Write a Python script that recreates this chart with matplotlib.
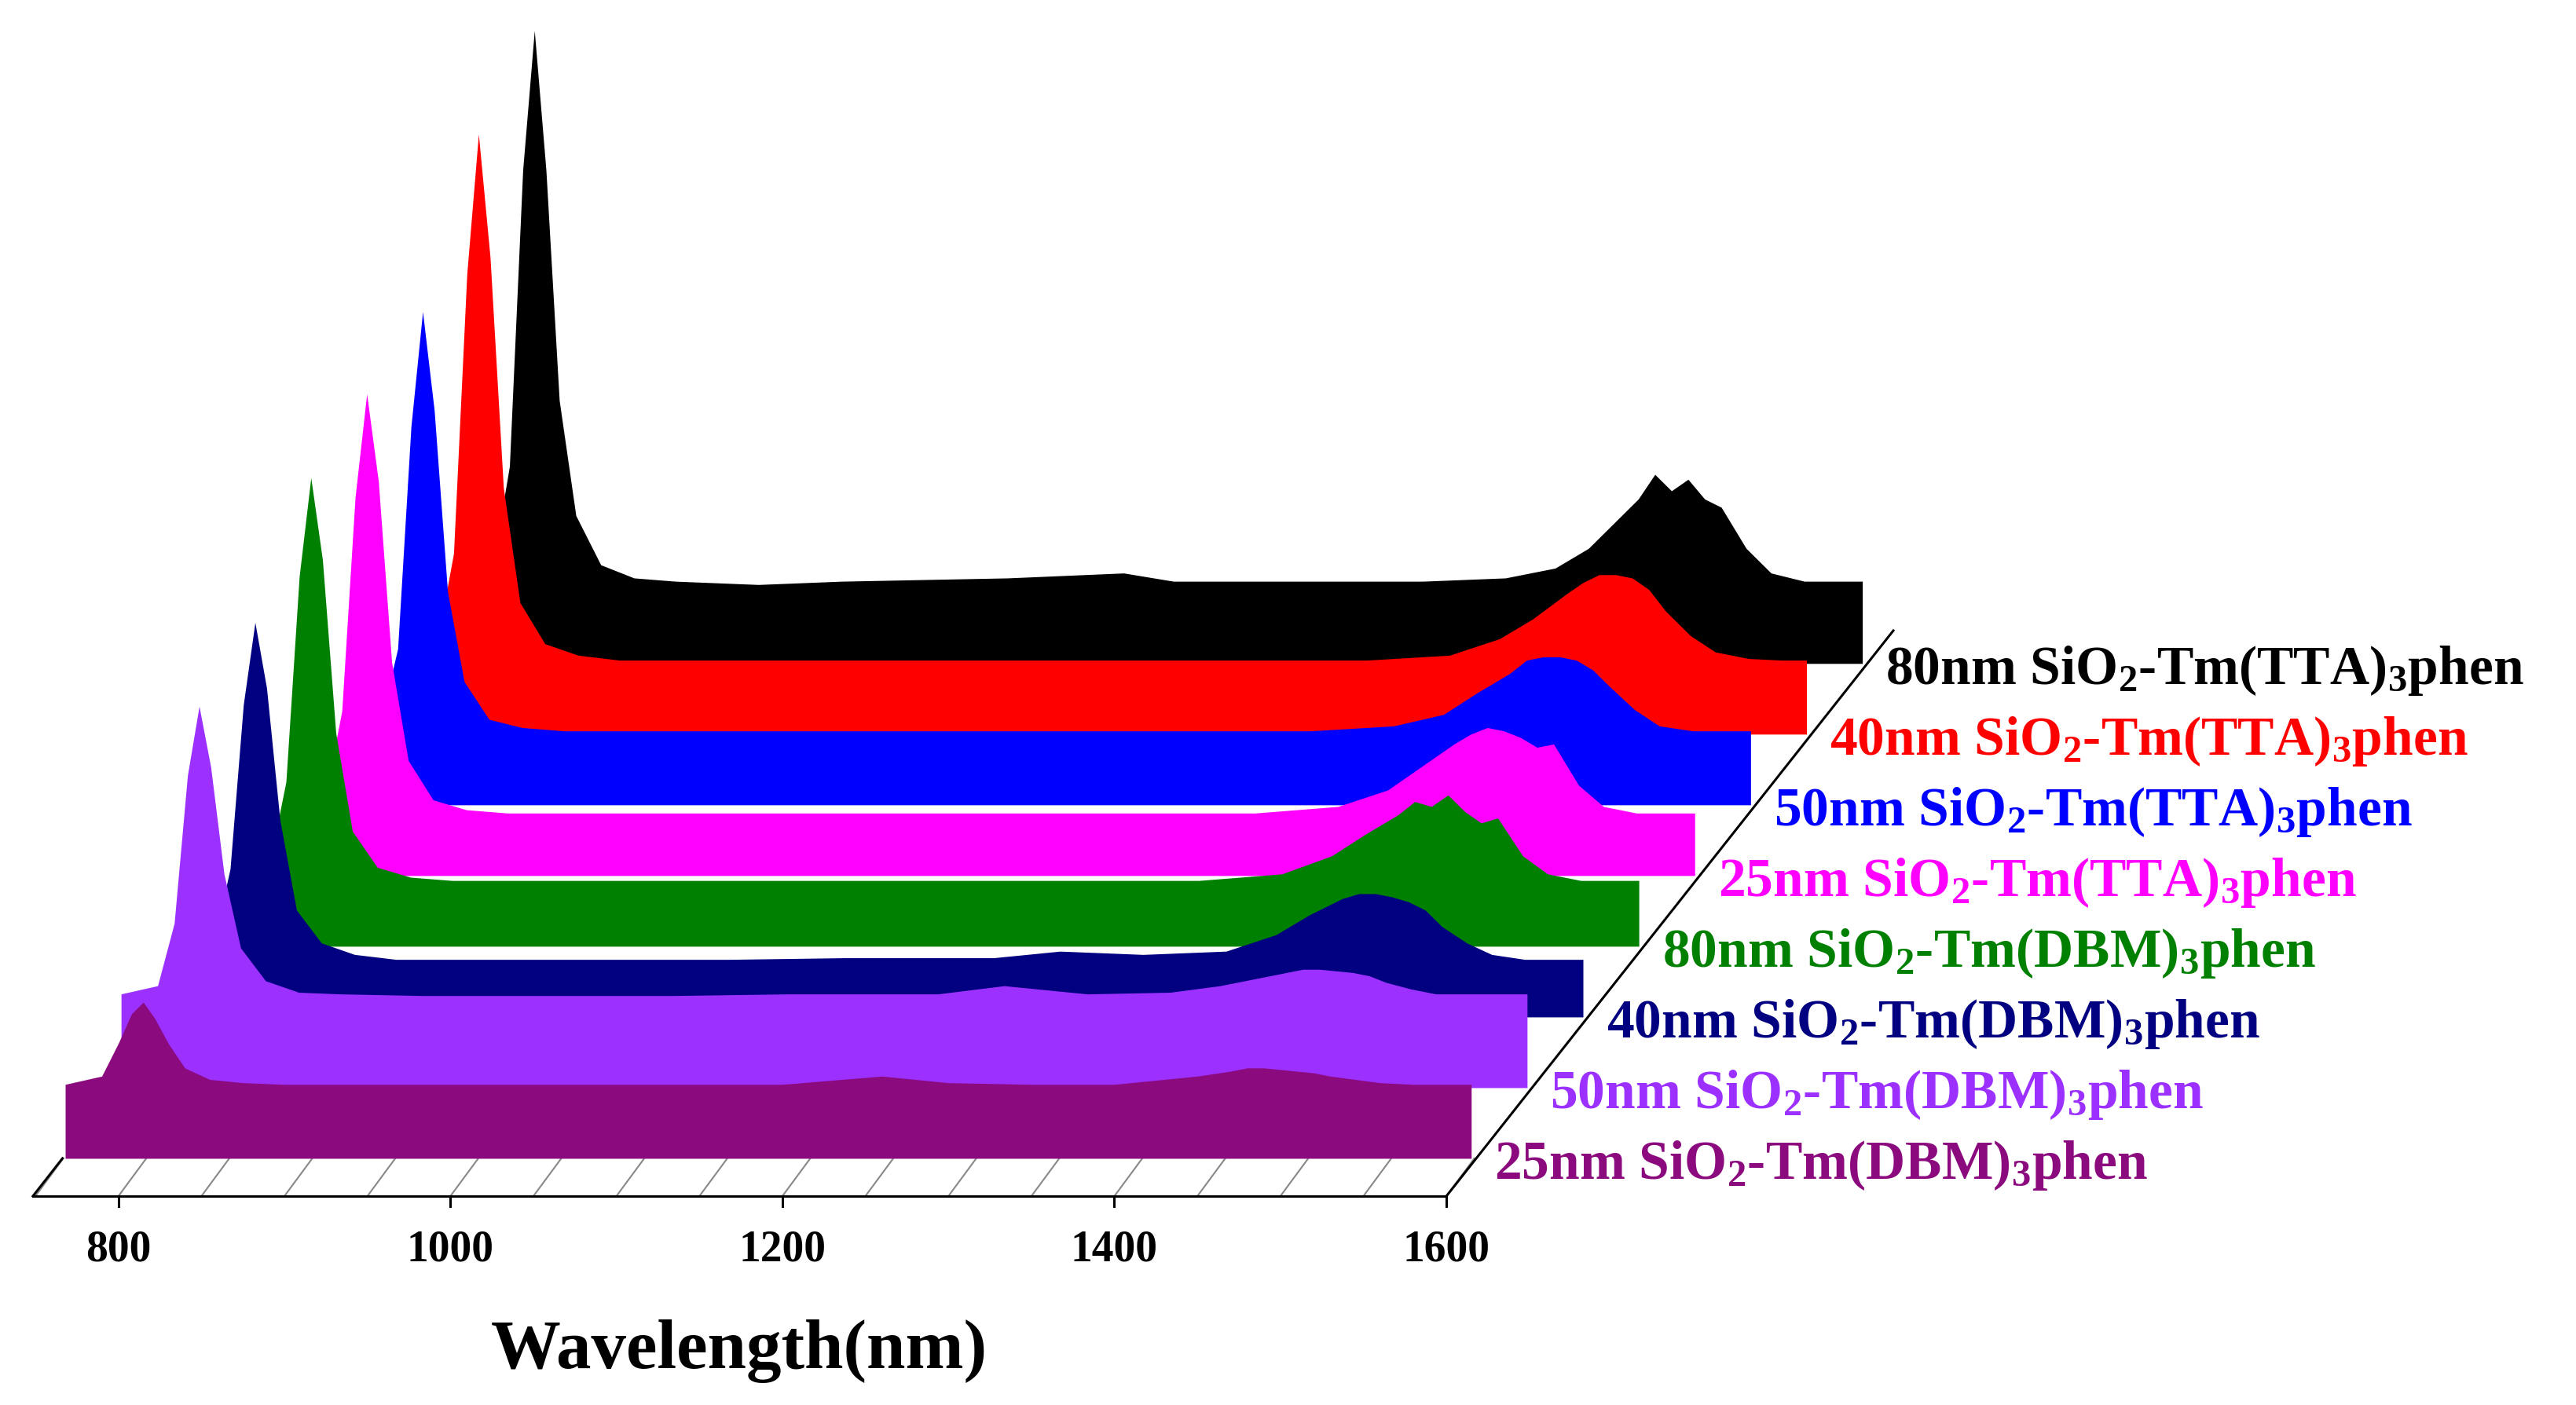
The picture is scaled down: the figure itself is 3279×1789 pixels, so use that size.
import matplotlib
matplotlib.use("Agg")
import matplotlib.pyplot as plt
import numpy as np

plt.rcParams['mathtext.fontset'] = 'custom'
plt.rcParams['mathtext.rm'] = 'Liberation Serif:bold'
plt.rcParams['mathtext.it'] = 'Liberation Serif:bold'
plt.rcParams['mathtext.bf'] = 'Liberation Serif:bold'

wl = [768, 790, 800, 808, 815, 822, 830, 840, 855, 875, 900, 950, 1000, 1100, 1170, 1200, 1260,
      1300, 1350, 1400, 1430, 1450, 1470, 1480, 1490, 1500, 1510, 1520, 1530, 1545, 1560, 1580, 1600, 1615]

labels = ["25nm SiO$_2$-Tm(DBM)$_3$phen", "50nm SiO$_2$-Tm(DBM)$_3$phen", "40nm SiO$_2$-Tm(DBM)$_3$phen",
          "80nm SiO$_2$-Tm(DBM)$_3$phen", "25nm SiO$_2$-Tm(TTA)$_3$phen", "50nm SiO$_2$-Tm(TTA)$_3$phen",
          "40nm SiO$_2$-Tm(TTA)$_3$phen", "80nm SiO$_2$-Tm(TTA)$_3$phen"]
colors = ["#8B0A7E", "#9B30FF", "#000080", "#008000", "#FF00FF", "#0000FF", "#FF0000", "#000000"]

intens = [
    [45, 50, 70, 88, 95, 85, 70, 55, 48, 46, 45, 45, 45, 45, 45, 45, 50, 46, 45, 45, 48, 50, 53, 55, 55, 54, 53, 52, 50, 48, 46, 45, 45, 45],
    [57, 62, 100, 190, 232, 195, 130, 85, 65, 58, 57, 56, 56, 56, 57, 57, 57, 62, 57, 58, 62, 66, 70, 72, 72, 71, 70, 68, 64, 60, 57, 57, 57, 57],
    [35, 45, 90, 190, 240, 200, 120, 65, 45, 38, 35, 35, 35, 35, 36, 36, 36, 40, 38, 40, 50, 62, 72, 75, 75, 73, 70, 65, 55, 45, 38, 35, 35, 35],
    [40, 50, 100, 225, 285, 235, 130, 70, 48, 42, 40, 40, 40, 40, 40, 40, 40, 40, 40, 44, 55, 68, 80, 88, 85, 92, 82, 75, 78, 55, 44, 40, 40, 40],
    [38, 48, 100, 230, 293, 240, 130, 70, 46, 40, 38, 38, 38, 38, 38, 38, 38, 38, 38, 42, 52, 66, 80, 86, 90, 88, 84, 78, 80, 55, 42, 38, 38, 38],
    [45, 52, 95, 230, 300, 240, 130, 75, 52, 47, 45, 45, 45, 45, 45, 45, 45, 45, 45, 48, 55, 68, 80, 88, 90, 90, 88, 82, 72, 58, 48, 45, 45, 45],
    [45, 55, 110, 280, 365, 290, 150, 80, 55, 48, 45, 45, 45, 45, 45, 45, 45, 45, 45, 48, 58, 70, 85, 92, 97, 97, 95, 88, 75, 60, 50, 46, 45, 45],
    [50, 60, 120, 300, 385, 300, 160, 90, 60, 52, 50, 48, 50, 52, 55, 50, 50, 50, 50, 52, 58, 70, 90, 100, 115, 105, 112, 100, 95, 70, 55, 50, 50, 50],
]

major_ticks = [800, 1000, 1200, 1400, 1600]

DX = 33.66   # nm shift per depth step
DY = 43.0    # intensity shift per depth step

fig = plt.figure(figsize=(32.8, 17.9), dpi=100)
ax = fig.add_axes([0, 0, 1, 1])
ax.set_xlim(728.7, 2281)
ax.set_ylim(-150, 705)
ax.axis('off')

x = np.array(wl, dtype=float)
for i in reversed(range(len(intens))):
    y = np.array(intens[i], dtype=float)
    ax.fill_between(x + i * DX, i * DY, y + i * DY, color=colors[i], lw=0, zorder=10 - i)
    ax.text(x[-1] + i * DX + 14, i * DY - 4, labels[i], color=colors[i], fontsize=50,
            fontfamily='Liberation Serif', fontweight='bold', va='center', ha='left', zorder=20)

# floor plane
fy = -0.5 * DY * 1.07
fx0 = 748.5
ax.plot([fx0, 1600], [fy, fy], color='black', lw=2.2, zorder=15)
ax.plot([1600, 1600 + 8 * DX], [fy, fy + 8 * DY], color='black', lw=2.2, zorder=15)
ax.plot([fx0, fx0 + 0.53 * DX], [fy, 0], color='black', lw=2.2, zorder=15)
for t in np.arange(750, 1601, 50):
    ax.plot([t, t + 0.5 * DX], [fy, 0], color='#888888', lw=1.5, zorder=1)
for t in major_ticks:
    ax.plot([t, t], [fy, fy - 6], color='black', lw=2.2, zorder=15)
    ax.text(t, -55, str(t), fontsize=40, fontfamily='Liberation Serif', fontweight='bold',
            ha='center', va='center')
ax.text(1174, -117, "Wavelength(nm)", fontsize=64, fontfamily='Liberation Serif', fontweight='bold',
        ha='center', va='center')

fig.savefig("out.png", dpi=100)
